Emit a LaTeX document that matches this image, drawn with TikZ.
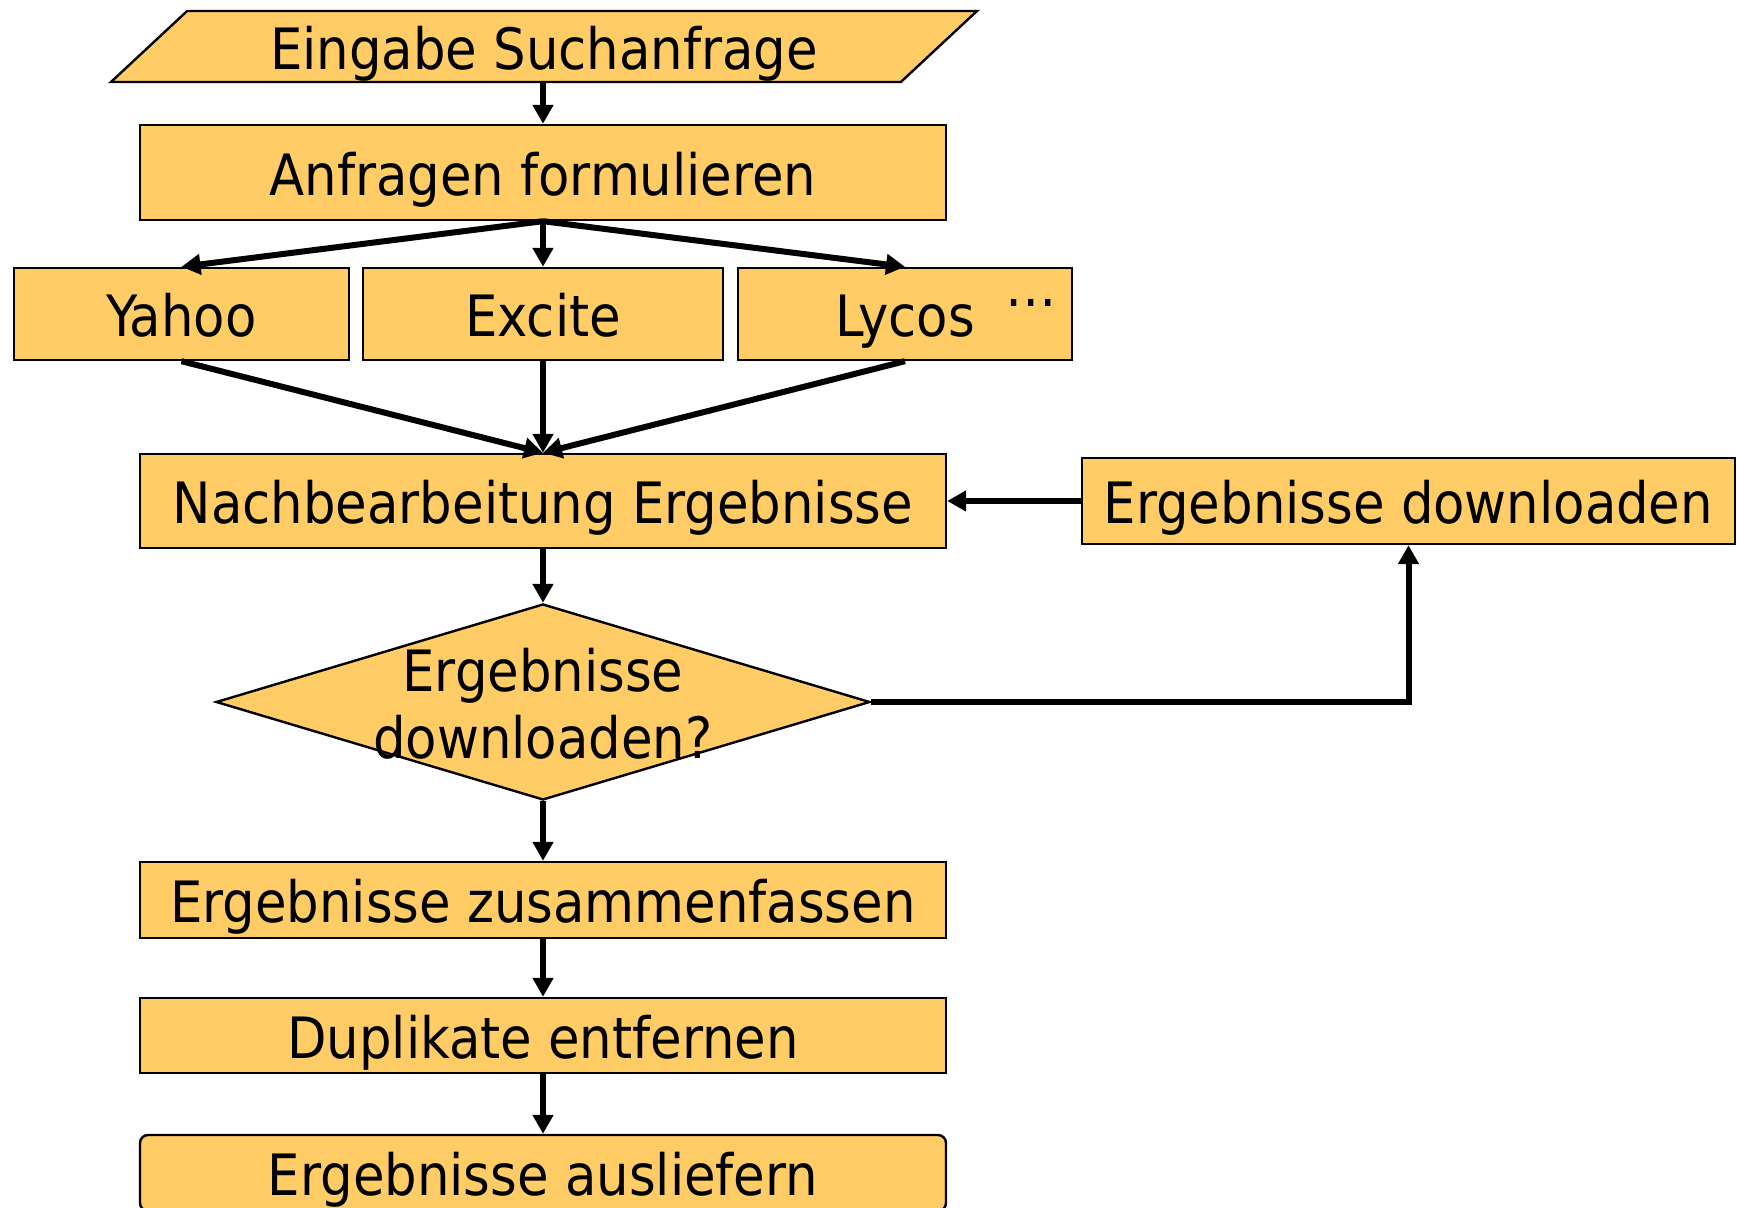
\documentclass[tikz,border=0pt]{standalone}
\usepackage{fontspec}
\setmainfont{DejaVu Sans Condensed}
\usetikzlibrary{shapes.geometric}
\usetikzlibrary{arrows.meta}
\definecolor{boxfill}{RGB}{255,204,102}
\newcommand{\flowfont}{\fontsize{28.5}{33.5}\selectfont}
\tikzset{
  box/.style={draw,fill=boxfill,line width=1.2pt,inner sep=0pt,font=\flowfont,
    text height=25.6pt,text depth=2.9pt},
  iobox/.style={box,trapezium,trapezium left angle=43,trapezium right angle=137,
    trapezium stretches body=true,inner ysep=3.5pt},
  decision/.style={box,diamond},
  arr/.style={-{Triangle[length=9.5pt,width=10pt]},line width=3pt}
}

\begin{document}
\begin{tikzpicture}[x=0.5pt,y=-0.5pt]
  \useasboundingbox (0,0) rectangle (1737,1208);
  % Eingabe und Anfragen
  \node[iobox,minimum width=433pt] (in) at (544,46.5) {Eingabe Suchanfrage};
  \node[box,minimum width=403pt,minimum height=47.5pt] (anf) at (543,172.5) {Anfragen formulieren};
  % Suchmaschinen
  \node[box,minimum width=167.5pt,minimum height=46pt] (yahoo) at (181.5,314) {Yahoo};
  \node[box,minimum width=180pt,minimum height=46pt] (excite) at (543,314) {Excite};
  \node[box,minimum width=167pt,minimum height=46pt] (lycos) at (905,314) {Lycos};
  \node[font=\flowfont] (dots) at (1031,303) {\ldots};
  % Nachbearbeitung
  \node[box,minimum width=403pt,minimum height=47pt] (nach) at (543,501) {Nachbearbeitung Ergebnisse};
  \node[box,minimum width=326.5pt,minimum height=43pt] (dl) at (1408.5,501) {Ergebnisse downloaden};
  \node[decision,minimum width=327pt,minimum height=98pt,text height=0pt,text depth=0pt] (dec) at (543,702) {};
  \node[font=\flowfont,align=center] (dectext) at (543,703.5) {Ergebnisse\\downloaden?};
  % Ausgabe
  \node[box,minimum width=403pt,minimum height=38pt] (zus) at (543,900) {Ergebnisse zusammenfassen};
  \node[box,minimum width=403pt,minimum height=37.5pt] (dup) at (543,1035.5) {Duplikate entfernen};
  \node[box,rounded corners=4pt,minimum width=403pt,minimum height=38pt] (aus) at (543,1173) {Ergebnisse ausliefern};

  \draw[arr] (in.south -| anf.north) -- (anf.north);
  \draw[arr] (anf.south) -- (yahoo.north);
  \draw[arr] (anf.south) -- (excite.north);
  \draw[arr] (anf.south) -- (lycos.north);
  \draw[arr] (yahoo.south) -- (nach.north);
  \draw[arr] (excite.south) -- (nach.north);
  \draw[arr] (lycos.south) -- (nach.north);
  \draw[arr] (nach.south) -- (dec.north);
  \draw[arr] (dec.east) -| (dl.south);
  \draw[arr] (dl.west) -- (nach.east);
  \draw[arr] (dec.south) -- (zus.north);
  \draw[arr] (zus.south) -- (dup.north);
  \draw[arr] (dup.south) -- (aus.north);
\end{tikzpicture}
\end{document}
